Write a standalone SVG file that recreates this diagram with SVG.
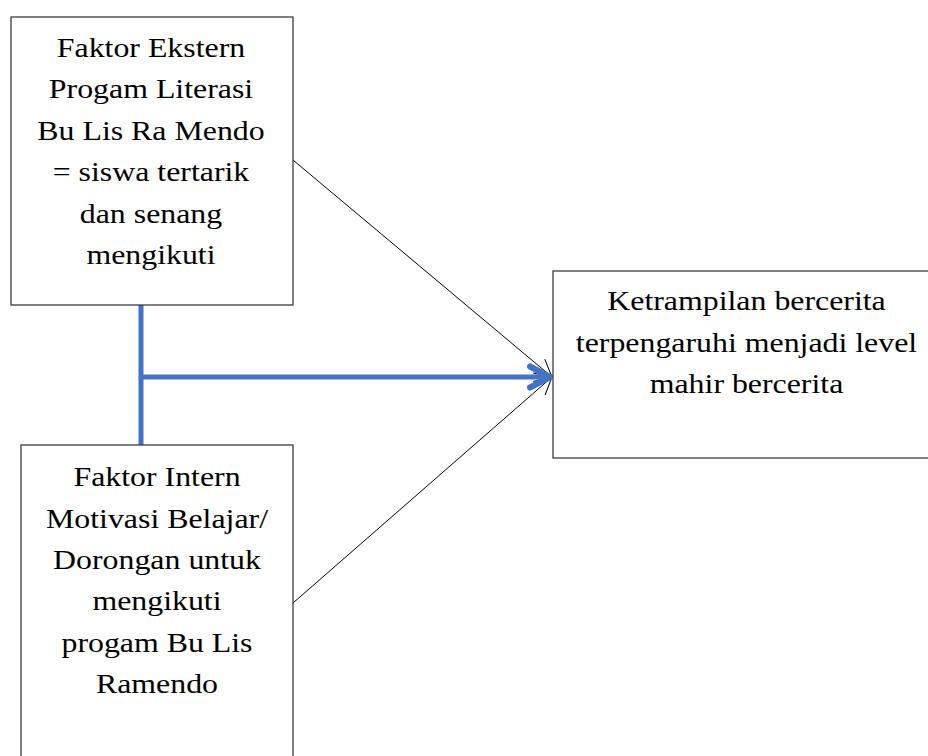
<svg xmlns="http://www.w3.org/2000/svg" width="928" height="756" viewBox="0 0 928 756">
<style>
.box{fill:#fff;stroke:#3c3c3c;stroke-width:1.3}
.t{font-family:"Liberation Serif","Times New Roman",serif;font-size:27px;fill:#000;text-anchor:middle}
.thin{stroke:#000;stroke-width:1;fill:none}
.blue{stroke:#4472C4;stroke-width:5;fill:none}
</style>
<defs>
<marker id="open" viewBox="0 0 20 20" markerWidth="20" markerHeight="20" refX="20" refY="10" orient="auto" markerUnits="userSpaceOnUse">
<path d="M3,1 L20,10 L3,19" fill="none" stroke="#000" stroke-width="1"/>
</marker>
</defs>
<rect width="928" height="756" fill="#fff"/>
<g id="connectors">
<line class="thin" x1="293" y1="160" x2="552" y2="377" marker-end="url(#open)"/>
<line class="thin" x1="293" y1="603" x2="552" y2="377" marker-end="url(#open)"/>
<line class="blue" x1="141" y1="305" x2="141" y2="445"/>
<line class="blue" x1="141" y1="377" x2="547" y2="377"/>
<path d="M530,366.5 L550,377 L530,387.5" fill="none" stroke="#4472C4" stroke-width="6" stroke-linecap="round" stroke-linejoin="round"/>
</g>
<g id="node-ekstern">
<rect class="box" x="11" y="17" width="282" height="288"/>
<g transform="translate(151,0) scale(1.18,1)">
<text class="t" x="0" y="57">Faktor Ekstern</text>
<text class="t" x="0" y="98.5">Progam Literasi</text>
<text class="t" x="0" y="140">Bu Lis Ra Mendo</text>
<text class="t" x="0" y="181.5">= siswa tertarik</text>
<text class="t" x="0" y="223">dan senang</text>
<text class="t" x="0" y="264.5">mengikuti</text>
</g>
</g>
<g id="node-intern">
<rect class="box" x="21" y="445" width="272" height="330"/>
<g transform="translate(157,0) scale(1.18,1)">
<text class="t" x="0" y="486.5">Faktor Intern</text>
<text class="t" x="0" y="528">Motivasi Belajar/</text>
<text class="t" x="0" y="569">Dorongan untuk</text>
<text class="t" x="0" y="610.5">mengikuti</text>
<text class="t" x="0" y="652">progam Bu Lis</text>
<text class="t" x="0" y="693">Ramendo</text>
</g>
</g>
<g id="node-ketrampilan">
<rect class="box" x="553" y="271" width="400" height="187"/>
<g transform="translate(746.5,0) scale(1.18,1)">
<text class="t" x="0" y="310.5">Ketrampilan bercerita</text>
<text class="t" x="0" y="352">terpengaruhi menjadi level</text>
<text class="t" x="0" y="393.5">mahir bercerita</text>
</g>
</g>
</svg>
